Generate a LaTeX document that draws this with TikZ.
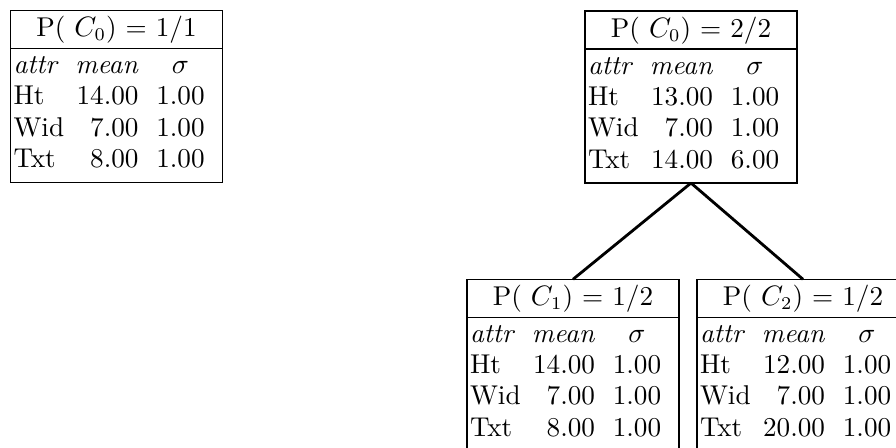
\documentclass[tikz,border=0pt]{standalone}
\usetikzlibrary{calc}
\tikzset{
  x=0.39pt, y=-0.39pt,
  statframe/.style={draw, line width=0.55pt, minimum width=82.68pt, minimum height=67.08pt, inner sep=0pt, outer sep=0pt, anchor=north west},
  rulestyle/.style={line width=0.55pt},
  conn/.style={line width=1.1pt},
  txt/.style={inner sep=0pt, font=\fontsize{10.6}{12}\selectfont},
  colA/.style={txt, anchor=base west},
  colB/.style={txt, anchor=base east},
  colC/.style={txt, anchor=base},
}
\newcommand{\statbox}[9]{%
  \node[statframe] (#1) at (#2) {};
  \draw[rulestyle] ($(#1.north west)+(0,38)$) coordinate (#1-hl) -- ($(#1.north east)+(0,38)$) coordinate (#1-hr);
  \begin{scope}[shift={(#1.north west)}]
    \node[txt, anchor=base] (#1-title) at (106,26) {#3};
    \node[colA] (#1-h1) at (2.5,63) {\textit{attr}};
    \node[colB] (#1-h2) at (128.5,63) {\textit{mean}};
    \node[colC] (#1-h3) at (170,63) {$\sigma$};
    \node[colA] (#1-a1) at (2.5,94) {Ht};
    \node[colB] (#1-a2) at (128.5,94) {#4};
    \node[colC] (#1-a3) at (170,94) {#5};
    \node[colA] (#1-b1) at (2.5,125.5) {Wid};
    \node[colB] (#1-b2) at (128.5,125.5) {#6};
    \node[colC] (#1-b3) at (170,125.5) {#7};
    \node[colA] (#1-c1) at (2.5,157) {Txt};
    \node[colB] (#1-c2) at (128.5,157) {#8};
    \node[colC] (#1-c3) at (170,157) {#9};
  \end{scope}}
\begin{document}
\begin{tikzpicture}
\useasboundingbox (0,0) rectangle (896,447);
\clip (0,0) rectangle (896,447);
\statbox{A}{10.5,10.5}{P( $C_0$) = 1/1}{14.00}{1.00}{7.00}{1.00}{8.00}{1.00}
\statbox{B}{585,11}{P( $C_0$) = 2/2}{13.00}{1.00}{7.00}{1.00}{14.00}{6.00}
\statbox{C}{467,279.3}{P( $C_1$) = 1/2}{14.00}{1.00}{7.00}{1.00}{8.00}{1.00}
\statbox{D}{697,279.3}{P( $C_2$) = 1/2}{12.00}{1.00}{7.00}{1.00}{20.00}{1.00}
\draw[conn] (B.south) -- (C.north);
\draw[conn] (B.south) -- (D.north);
\end{tikzpicture}
\end{document}
